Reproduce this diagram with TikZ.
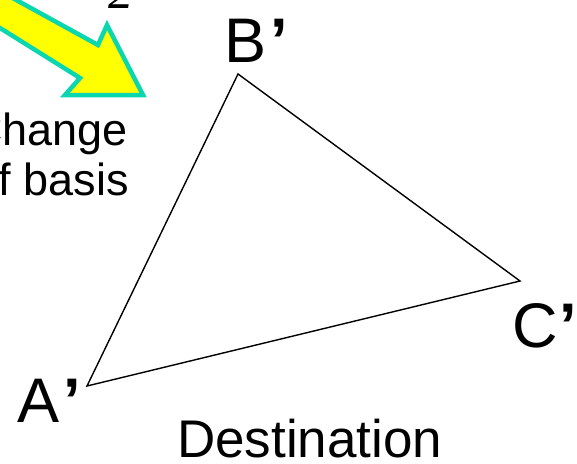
\documentclass[tikz,border=0pt]{standalone}
\usepackage{fontspec}
\setmainfont{Liberation Sans}
\newfontfamily\serifit{Liberation Serif}
\definecolor{arrowfill}{RGB}{255,255,0}
\definecolor{arrowedge}{RGB}{10,215,175}
\newcommand{\primemark}{\kern4pt\textbf{’}}
\begin{document}
\begin{tikzpicture}[x=1pt,y=-1pt,
  vlabel/.style={inner sep=0pt,font=\fontsize{63}{70}\selectfont},
  txt/.style={inner sep=0pt,font=\fontsize{45}{50}\selectfont},
  tri/.style={draw=black,line width=1.4pt,line join=miter}]
\useasboundingbox (0,0) rectangle (577,463);
% change-of-basis arrow
\draw[fill=arrowfill,draw=arrowedge,line width=4.5pt,line join=miter]
  (-40,-31) -- (98,45) -- (107,25) -- (143,95) -- (65,95) -- (80,78) -- (-40,3) -- cycle;
\node[inner sep=0pt,anchor=base west,font=\fontsize{50}{54}\selectfont\serifit\itshape] (two) at (108,9) {2};
\node[txt,anchor=base east] (chg) at (128,145) {Change};
\node[txt,anchor=base east] (ofb) at (129,195) {of basis};
% triangle
\coordinate (A) at (87,386);
\coordinate (B) at (238,74);
\coordinate (C) at (520,281);
\draw[tri] (A) -- (B) -- (C) -- cycle;
\node[vlabel,anchor=base west] (la) at (17,422) {A\primemark};
\node[vlabel,anchor=base west] (lb) at (224,62) {B\primemark};
\node[vlabel,anchor=base west] (lc) at (512,347) {C\kern2pt\textbf{’}};
\node[inner sep=0pt,anchor=base west,font=\fontsize{53}{58}\selectfont] (dest) at (177,457) {Destination};
\end{tikzpicture}
\end{document}
